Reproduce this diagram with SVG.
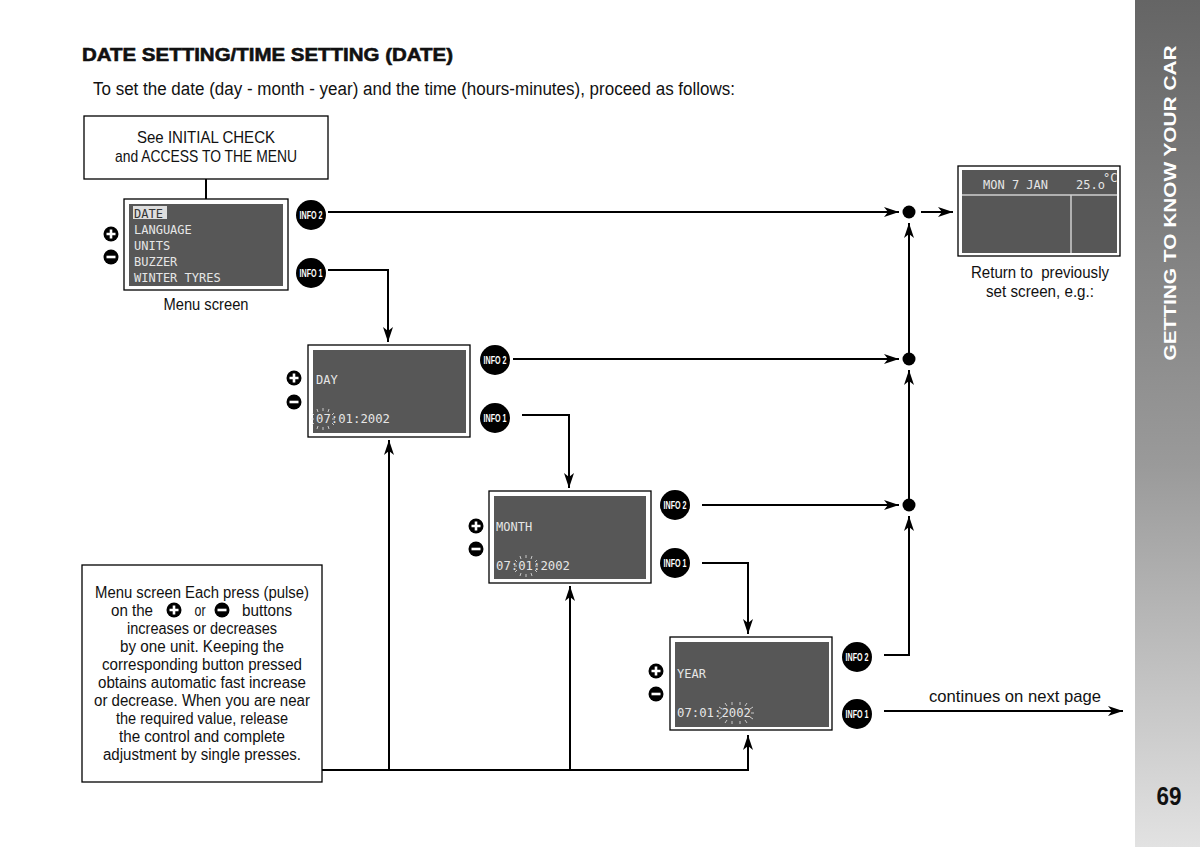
<svg xmlns="http://www.w3.org/2000/svg" width="1200" height="847" viewBox="0 0 1200 847">
<defs>
<linearGradient id="side" x1="0" y1="0" x2="0" y2="1">
<stop offset="0" stop-color="#656565"/>
<stop offset="0.55" stop-color="#9a9a9a"/>
<stop offset="1" stop-color="#e2e2e2"/>
</linearGradient>
<marker id="ah" markerUnits="userSpaceOnUse" markerWidth="16" markerHeight="10" refX="15" refY="5" orient="auto">
<path d="M0,0 L15,5 L0,10 L4,5 z" fill="#000"/>
</marker>
<g id="plus"><circle r="7.5" fill="#000"/><path d="M-4.5,0 H4.5 M0,-4.5 V4.5" stroke="#fff" stroke-width="2.6"/></g>
<g id="minus"><circle r="7.5" fill="#000"/><path d="M-4.5,0 H4.5" stroke="#fff" stroke-width="2.6"/></g>
<g id="info1"><circle r="15" fill="#000"/><text x="0" y="3.5" class="info" textLength="23" lengthAdjust="spacingAndGlyphs">INFO 1</text></g>
<g id="info2"><circle r="15" fill="#000"/><text x="0" y="3.5" class="info" textLength="23" lengthAdjust="spacingAndGlyphs">INFO 2</text></g>
<g id="rays2" class="ray"><path d="M0,-11 V-8 M-6,-10 L-5,-7 M6,-10 L5,-7 M-11,-6 L-9,-4 M11,-6 L9,-4 M-12,0 H-9 M12,0 H9 M-11,6 L-9,4 M11,6 L9,4 M-6,10 L-5,7 M6,10 L5,7 M0,11 V8"/></g>
<g id="rays4" class="ray"><path d="M-4,-11 V-8 M4,-11 V-8 M-11,-10 L-9,-7 M11,-10 L9,-7 M-17,-6 L-14,-4 M17,-6 L14,-4 M-18,0 H-15 M18,0 H15 M-17,6 L-14,4 M17,6 L14,4 M-11,10 L-9,7 M11,10 L9,7 M-4,11 V8 M4,11 V8"/></g>
</defs>
<style>
.t{font-family:"Liberation Sans",Arial,sans-serif;fill:#111}
.c{text-anchor:middle}
.info{font-family:"Liberation Sans",Arial,sans-serif;font-weight:bold;font-size:10px;fill:#fff;text-anchor:middle}
.lcd{font-family:"DejaVu Sans Mono",monospace;font-size:12px;fill:#e6e6e6}
.scr{fill:#fff;stroke:#000;stroke-width:1.3}
.in{fill:#575757}
.ln{fill:none;stroke:#000;stroke-width:2}
.ray{fill:none;stroke:#e6e6e6;stroke-width:0.8}
.box{fill:#fff;stroke:#000;stroke-width:1.3}
</style>
<rect width="1200" height="847" fill="#fff"/>
<rect x="1135" y="0" width="65" height="847" fill="url(#side)"/>
<text transform="translate(1176,203) rotate(-90)" text-anchor="middle" font-family="Liberation Sans,Arial,sans-serif" font-weight="bold" font-size="17" fill="#fff" textLength="315" lengthAdjust="spacingAndGlyphs">GETTING TO KNOW YOUR CAR</text>
<text x="1169" y="805" text-anchor="middle" font-family="Liberation Sans,Arial,sans-serif" font-weight="bold" font-size="26" fill="#111" textLength="25" lengthAdjust="spacingAndGlyphs">69</text>

<text x="82" y="61" class="t" font-weight="bold" font-size="19" textLength="371" lengthAdjust="spacingAndGlyphs" stroke="#111" stroke-width="0.6">DATE SETTING/TIME SETTING (DATE)</text>
<text x="93" y="95" class="t" font-size="18" textLength="642" lengthAdjust="spacingAndGlyphs">To set the date (day - month - year) and the time (hours-minutes), proceed as follows:</text>

<g id="connectors">
<line x1="206" y1="179" x2="206" y2="200" class="ln"/>
<line x1="328" y1="212" x2="899" y2="212" class="ln" marker-end="url(#ah)"/>
<line x1="921" y1="212" x2="953" y2="212" class="ln" marker-end="url(#ah)"/>
<polyline points="328,270 388,270 388,342" class="ln" marker-end="url(#ah)"/>
<line x1="513" y1="359" x2="899" y2="359" class="ln" marker-end="url(#ah)"/>
<polyline points="522,415 569,415 569,488" class="ln" marker-end="url(#ah)"/>
<line x1="702" y1="505" x2="899" y2="505" class="ln" marker-end="url(#ah)"/>
<polyline points="702,563 748,563 748,634" class="ln" marker-end="url(#ah)"/>
<polyline points="884,655 909,655 909,516" class="ln" marker-end="url(#ah)"/>
<line x1="909" y1="505" x2="909" y2="370" class="ln" marker-end="url(#ah)"/>
<line x1="909" y1="359" x2="909" y2="223" class="ln" marker-end="url(#ah)"/>
<line x1="884" y1="711" x2="1123" y2="711" class="ln" marker-end="url(#ah)"/>
<polyline points="322,770 748,770 748,735" class="ln" marker-end="url(#ah)"/>
<line x1="389" y1="770" x2="389" y2="440" class="ln" marker-end="url(#ah)"/>
<line x1="570" y1="770" x2="570" y2="586" class="ln" marker-end="url(#ah)"/>
<circle cx="909" cy="212" r="6.5" fill="#000"/>
<circle cx="909" cy="359" r="6.5" fill="#000"/>
<circle cx="909" cy="505" r="6.5" fill="#000"/>
<text x="1015" y="702" class="t c" font-size="17" textLength="172" lengthAdjust="spacingAndGlyphs">continues on next page</text>
</g>

<g id="start">
<rect x="84" y="116" width="244" height="63" class="box"/>
<text x="206" y="143" class="t c" font-size="17" textLength="138" lengthAdjust="spacingAndGlyphs">See INITIAL CHECK</text>
<text x="206" y="162" class="t c" font-size="17" textLength="182" lengthAdjust="spacingAndGlyphs">and ACCESS TO THE MENU</text>
</g>

<g id="menu">
<rect x="124" y="199" width="164" height="91" class="scr"/>
<rect x="129" y="204" width="154" height="82" class="in"/>
<rect x="133" y="206" width="34" height="13" fill="#dedede"/>
<text x="134" y="218" class="lcd" style="fill:#333">DATE</text>
<text x="134" y="234" class="lcd">LANGUAGE</text>
<text x="134" y="250" class="lcd">UNITS</text>
<text x="134" y="266" class="lcd">BUZZER</text>
<text x="134" y="282" class="lcd">WINTER TYRES</text>
<text x="206" y="310" class="t c" font-size="17" textLength="85" lengthAdjust="spacingAndGlyphs">Menu screen</text>
<use href="#plus" x="111" y="234"/>
<use href="#minus" x="111" y="257"/>
<use href="#info2" x="311" y="215"/>
<use href="#info1" x="311" y="273"/>
</g>

<g id="return">
<rect x="958" y="166" width="162" height="90" class="scr"/>
<rect x="962" y="170" width="155" height="83" class="in"/>
<line x1="962" y1="195" x2="1117" y2="195" stroke="#cfcfcf" stroke-width="1.5"/>
<line x1="1071" y1="195" x2="1071" y2="253" stroke="#cfcfcf" stroke-width="1.5"/>
<text x="983" y="189" class="lcd" font-size="11">MON 7 JAN</text>
<text x="1076" y="189" class="lcd" font-size="11">25.o</text>
<text x="1103" y="182" class="lcd" font-size="6.5">°C</text>
<text x="1040" y="278" class="t c" font-size="17" textLength="138" lengthAdjust="spacingAndGlyphs" xml:space="preserve">Return to  previously</text>
<text x="1040" y="297" class="t c" font-size="17" textLength="108" lengthAdjust="spacingAndGlyphs">set screen, e.g.:</text>
</g>

<g id="day">
<rect x="308" y="345" width="162" height="92" class="scr"/>
<rect x="313" y="350" width="153" height="83" class="in"/>
<text x="316" y="384" class="lcd">DAY</text>
<text x="316" y="423" class="lcd" textLength="74" lengthAdjust="spacingAndGlyphs">07:01:2002</text>
<use href="#rays2" x="323" y="419"/>
<use href="#plus" x="294" y="378"/>
<use href="#minus" x="294" y="402"/>
<use href="#info2" x="495" y="360"/>
<use href="#info1" x="495" y="418"/>
</g>

<g id="month">
<rect x="489" y="491" width="162" height="92" class="scr"/>
<rect x="494" y="496" width="152" height="83" class="in"/>
<text x="496" y="531" class="lcd">MONTH</text>
<text x="496" y="570" class="lcd" textLength="74" lengthAdjust="spacingAndGlyphs">07:01:2002</text>
<use href="#rays2" x="526" y="566"/>
<use href="#plus" x="476" y="526"/>
<use href="#minus" x="476" y="549"/>
<use href="#info2" x="675" y="505"/>
<use href="#info1" x="675" y="563"/>
</g>

<g id="year">
<rect x="670" y="637" width="162" height="93" class="scr"/>
<rect x="675" y="642" width="154" height="85" class="in"/>
<text x="677" y="678" class="lcd">YEAR</text>
<text x="677" y="717" class="lcd" textLength="74" lengthAdjust="spacingAndGlyphs">07:01:2002</text>
<use href="#rays4" x="736" y="713"/>
<use href="#plus" x="656" y="671"/>
<use href="#minus" x="656" y="694"/>
<use href="#info2" x="857" y="657"/>
<use href="#info1" x="857" y="714"/>
</g>

<g id="note">
<rect x="82" y="565" width="240" height="217" class="box"/>
<g class="t c" font-size="16">
<text x="202" y="598" textLength="214" lengthAdjust="spacingAndGlyphs">Menu screen Each press (pulse)</text>
<text x="132" y="616" textLength="42" lengthAdjust="spacingAndGlyphs">on the</text>
<text x="200" y="616" textLength="11" lengthAdjust="spacingAndGlyphs">or</text>
<text x="267" y="616" textLength="50" lengthAdjust="spacingAndGlyphs">buttons</text>
<text x="202" y="634" textLength="150" lengthAdjust="spacingAndGlyphs">increases or decreases</text>
<text x="202" y="652" textLength="164" lengthAdjust="spacingAndGlyphs">by one unit. Keeping the</text>
<text x="202" y="670" textLength="200" lengthAdjust="spacingAndGlyphs">corresponding button pressed</text>
<text x="202" y="688" textLength="208" lengthAdjust="spacingAndGlyphs">obtains automatic fast increase</text>
<text x="202" y="706" textLength="216" lengthAdjust="spacingAndGlyphs">or decrease. When you are near</text>
<text x="202" y="724" textLength="172" lengthAdjust="spacingAndGlyphs">the required value, release</text>
<text x="202" y="742" textLength="166" lengthAdjust="spacingAndGlyphs">the control and complete</text>
<text x="202" y="760" textLength="198" lengthAdjust="spacingAndGlyphs">adjustment by single presses.</text>
</g>
<use href="#plus" x="174" y="610"/>
<use href="#minus" x="222" y="610"/>
</g>
</svg>
